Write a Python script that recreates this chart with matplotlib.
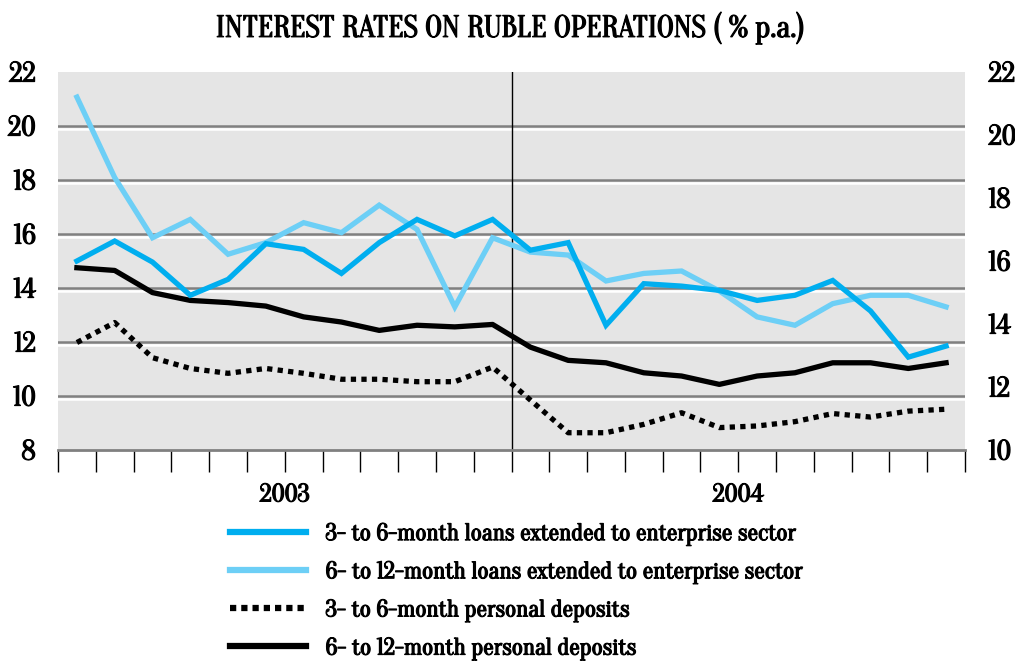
import matplotlib
matplotlib.use("Agg")
import matplotlib.pyplot as plt
import matplotlib.patheffects as pe
from matplotlib.lines import Line2D
from matplotlib.font_manager import FontProperties
import numpy as np

months = list(range(24))
years = ["2003", "2004"]

loans_3_6 = [15.0, 15.74, 14.96, 13.73, 14.32, 15.64, 15.43, 14.54, 15.68, 16.54, 15.93, 16.54,
             15.40, 15.68, 12.62, 14.16, 14.07, 13.91, 13.54, 13.73, 14.28, 13.15, 11.44, 11.85]
loans_6_12 = [21.07, 18.09, 15.86, 16.54, 15.25, 15.68, 16.42, 16.05, 17.07, 16.17, 13.30, 15.86,
              15.33, 15.22, 14.26, 14.54, 14.63, 13.89, 12.93, 12.62, 13.42, 13.73, 13.73, 13.30]
dep_3_6 = [11.98, 12.72, 11.42, 11.02, 10.84, 11.02, 10.84, 10.62, 10.62, 10.53, 10.53, 11.07,
           9.85, 8.64, 8.64, 8.95, 9.38, 8.83, 8.89, 9.05, 9.35, 9.22, 9.44, 9.51]
dep_6_12 = [14.75, 14.65, 13.83, 13.54, 13.46, 13.33, 12.93, 12.74, 12.43, 12.62, 12.56, 12.65,
            11.81, 11.32, 11.23, 10.86, 10.74, 10.43, 10.74, 10.86, 11.23, 11.23, 11.02, 11.23]

labels = ["3- to 6-month loans extended to enterprise sector",
          "6- to 12-month loans extended to enterprise sector",
          "3- to 6-month personal deposits",
          "6- to 12-month personal deposits"]

left_ticks = list(range(8, 23, 2))
right_ticks = list(range(10, 23, 2))

FAM = "Oranienbaum"
BOLD = [pe.withStroke(linewidth=0.9, foreground="black")]

c_dark = "#00AEEF"
c_light = "#6DCFF6"

fig = plt.figure(figsize=(10.15, 6.64), dpi=100)
ax = fig.add_axes([58/1015, 1-450/664, (965-58)/1015, (450-72)/664])
ax.set_facecolor("#E5E5E5")
ax.set_xlim(-0.5, 23.5)
ax.set_ylim(8, 22)

for v in left_ticks[1:-1]:
    ax.axhline(v, color="#808080", lw=1.8, zorder=1,
               path_effects=[pe.SimpleLineShadow(offset=(0, -2), shadow_color="white", alpha=1), pe.Normal()])

ax.axvline(11.5, color="black", lw=1.0, zorder=2)

ax.plot(months, loans_3_6, color=c_dark, lw=3.8, zorder=4, solid_joinstyle="miter")
ax.plot(months, loans_6_12, color=c_light, lw=3.8, zorder=3, solid_joinstyle="miter")
ax.plot(months, dep_3_6, color="black", lw=3.8, ls=(0, (1, 1)), dash_capstyle="butt", zorder=3)
ax.plot(months, dep_6_12, color="black", lw=3.8, zorder=3)

for s in ["top", "right", "left"]:
    ax.spines[s].set_visible(False)
ax.spines["bottom"].set_color("#808080")
ax.spines["bottom"].set_linewidth(2)

ax.set_xticks(np.arange(-0.5, 24, 1))
ax.set_xticklabels([])
ax.tick_params(axis="x", length=16, width=1, color="black", direction="out")
ax.set_yticks(left_ticks)
ax.set_yticklabels([str(t) for t in left_ticks])
ax.tick_params(axis="y", length=0, pad=16)
for lab in ax.get_yticklabels():
    lab.set_fontproperties(FontProperties(family=FAM, size=20))
    lab.set_path_effects(BOLD)

ax2 = ax.twinx()
ax2.set_ylim(10, 22)
ax2.set_yticks(right_ticks)
ax2.set_yticklabels([str(t) for t in right_ticks])
ax2.tick_params(axis="y", length=0, pad=17)
for lab in ax2.get_yticklabels():
    lab.set_fontproperties(FontProperties(family=FAM, size=20))
    lab.set_path_effects(BOLD)
for s in ax2.spines.values():
    s.set_visible(False)

for i, y in enumerate(years):
    ax.text(5.5 + 12*i, -0.12, y, transform=ax.get_xaxis_transform(), ha="center", va="center",
            family=FAM, fontsize=18, path_effects=BOLD)

fig.text(0.503, 1-28/664, "INTEREST RATES ON RUBLE OPERATIONS ( % p.a.)", ha="center", va="center",
         family=FAM, fontsize=22, path_effects=BOLD)

handles = [Line2D([], [], color=c_dark, lw=4.5),
           Line2D([], [], color=c_light, lw=4.5),
           Line2D([], [], color="black", lw=4.5, ls=(0, (1.0, 0.8)), dash_capstyle="butt"),
           Line2D([], [], color="black", lw=4.5)]
leg = fig.legend(handles, labels, loc="upper left", bbox_to_anchor=(230/1015, 1-522/664),
                 frameon=False, handlelength=3.2, handletextpad=0.85, labelspacing=0.6,
                 borderpad=0, borderaxespad=0,
                 prop=FontProperties(family=FAM, size=17))
for t in leg.get_texts():
    t.set_path_effects(BOLD)

fig.savefig("out.png", dpi=100)
